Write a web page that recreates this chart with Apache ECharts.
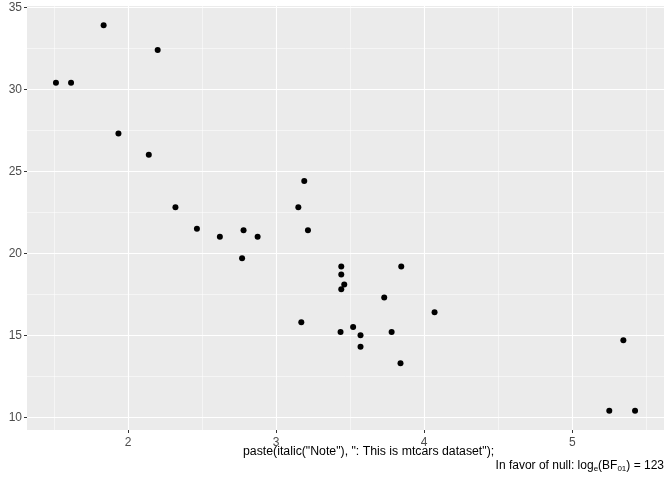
<!DOCTYPE html>
<html><head><meta charset="utf-8">
<script src="https://cdn.jsdelivr.net/npm/echarts@6/dist/echarts.min.js"></script>
<style>html,body{margin:0;padding:0;background:#fff}#c{width:672px;height:480px}</style>
</head><body><div id="c"></div>
<script>
// mtcars: weight (1000 lbs) vs miles per gallon
const wt  = [2.620,2.875,2.320,3.215,3.440,3.460,3.570,3.190,3.150,3.440,3.440,4.070,3.730,3.780,5.250,5.424,5.345,2.200,1.615,1.835,2.465,3.520,3.435,3.840,3.845,1.935,2.140,1.513,3.170,2.770,3.570,2.780];
const mpg = [21.0,21.0,22.8,21.4,18.7,18.1,14.3,24.4,22.8,19.2,17.8,16.4,17.3,15.2,10.4,10.4,14.7,32.4,30.4,33.9,21.5,15.5,15.2,13.3,19.2,27.3,26.0,30.4,15.8,19.7,15.0,21.4];
const xTicks = [2,3,4,5];
const yTicks = [10,15,20,25,30,35];
const xMinor = [1.5,2.5,3.5,4.5,5.5];
const yMinor = [12.5,17.5,22.5,27.5,32.5];

const xr = Math.max(...wt)-Math.min(...wt), yr = Math.max(...mpg)-Math.min(...mpg);
const xMin = Math.min(...wt)-0.05*xr, xMax = Math.max(...wt)+0.05*xr;
const yMin = Math.min(...mpg)-0.05*yr, yMax = Math.max(...mpg)+0.05*yr;

const gridLines = [];
xMinor.forEach(v=>gridLines.push({xAxis:v,lineStyle:{width:0.5}}));
yMinor.forEach(v=>gridLines.push({yAxis:v,lineStyle:{width:0.5}}));
xTicks.forEach(v=>gridLines.push({xAxis:v,lineStyle:{width:1.1}}));
yTicks.forEach(v=>gridLines.push({yAxis:v,lineStyle:{width:1.1}}));

const chart = echarts.init(document.getElementById('c'));
const axisCommon = {
  splitLine:{show:false},
  axisLine:{show:false},
  axisTick:{show:true,length:3,lineStyle:{color:'#333',width:1}},
  axisLabel:{color:'#4D4D4D',fontSize:12,fontFamily:'Liberation Sans, Arial, sans-serif'}
};
chart.setOption({
  animation:false,
  grid:{left:27,right:8,top:6,bottom:50,show:true,backgroundColor:'#EBEBEB',borderWidth:0},
  xAxis:Object.assign({},axisCommon,{type:'value',min:xMin,max:xMax,
    axisTick:Object.assign({},axisCommon.axisTick,{customValues:xTicks}),
    axisLabel:Object.assign({},axisCommon.axisLabel,{customValues:xTicks,margin:7})}),
  yAxis:Object.assign({},axisCommon,{type:'value',min:yMin,max:yMax,
    axisTick:Object.assign({},axisCommon.axisTick,{customValues:yTicks}),
    axisLabel:Object.assign({},axisCommon.axisLabel,{customValues:yTicks,margin:5})}),
  series:[
    {type:'scatter',data:[],silent:true,z:1,
     markLine:{silent:true,z:1,symbol:'none',label:{show:false},animation:false,
       lineStyle:{color:'#FFFFFF',type:'solid'},data:gridLines}},
    {type:'scatter',z:5,symbol:'circle',symbolSize:6,
     itemStyle:{color:'#000',opacity:1},data:wt.map((w,i)=>[w,mpg[i]])}
  ],
  graphic:[
    {type:'text',left:243,top:446,z:10,style:{text:'paste(italic("Note"), ": This is mtcars dataset");',
      font:'12.3px "Liberation Sans", Arial, sans-serif',fill:'#000'}},
    {type:'text',right:8,top:460,z:10,style:{
      text:'In favor of null: log{s|e}(BF{s|01}) = 123',
      font:'12px "Liberation Sans", Arial, sans-serif',fill:'#000',
      rich:{s:{fontSize:8,verticalAlign:'bottom',padding:[6,0,0,0],fontFamily:'Liberation Sans'}}}}
  ]
});
</script></body></html>
